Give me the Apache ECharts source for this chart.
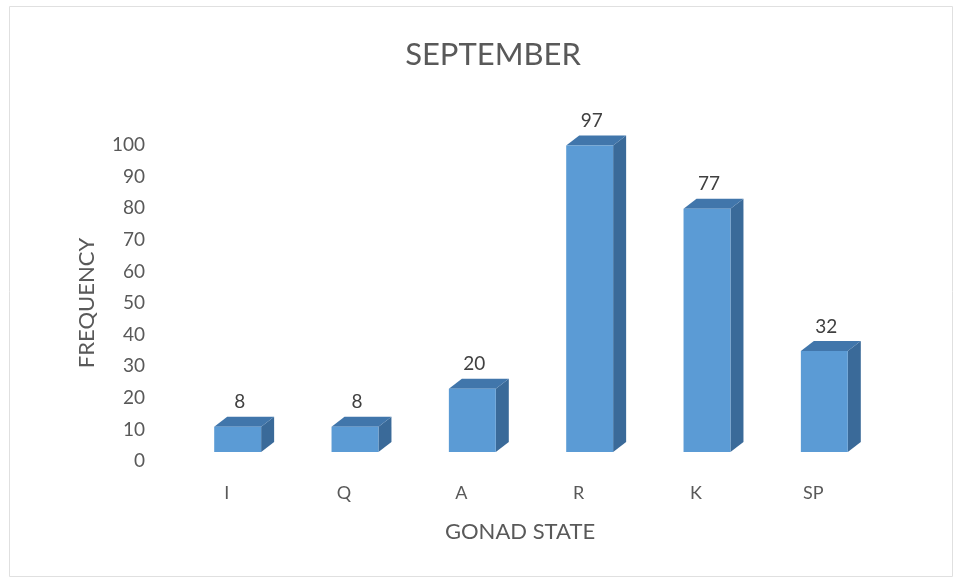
<!DOCTYPE html>
<html>
<head>
<meta charset="utf-8">
<script src="https://cdn.jsdelivr.net/npm/echarts@6/dist/echarts.min.js"></script>
<style>html,body{margin:0;padding:0;background:#fff;}#c{width:960px;height:582px;}</style>
</head>
<body>
<div id="c"></div>
<script>
const categories = ['I', 'Q', 'A', 'R', 'K', 'SP'];
const frequency = [8, 8, 20, 97, 77, 32];
const yTicks = { min: 0, max: 100, interval: 10 };

const FONT = 'Lato';
const chart = echarts.init(document.getElementById('c'), null, { renderer: 'canvas' });

const DX = 13, DY = 10, OFFX = 11, OFFY = -9;

function renderBar(params, api) {
  const i = api.value(0), v = api.value(1);
  const top = api.coord([i, v]);
  const base = api.coord([i, 0]);
  const w = api.size([1, 0])[0] * 0.4;
  const cx = top[0] + OFFX;
  const x0 = cx - w / 2, x1 = cx + w / 2;
  const yT = top[1] + OFFY, yB = base[1] + OFFY;
  return {
    type: 'group',
    children: [
      { type: 'polygon', shape: { points: [[x1, yT], [x1 + DX, yT - DY], [x1 + DX, yB - DY], [x1, yB]] },
        style: { fill: '#3a6a99' } },
      { type: 'polygon', shape: { points: [[x0, yT], [x1, yT], [x1 + DX, yT - DY], [x0 + DX, yT - DY]] },
        style: { fill: '#4176ab' } },
      { type: 'rect', shape: { x: x0, y: yT, width: w, height: yB - yT },
        style: { fill: '#5b9bd5' } },
      { type: 'text', x: cx + 2, y: yT - DY - 5,
        style: { text: String(v), fill: '#404040', font: '19px ' + FONT, textAlign: 'center', textVerticalAlign: 'bottom' } }
    ]
  };
}

chart.setOption({
  backgroundColor: '#ffffff',
  animation: false,
  title: {
    text: 'SEPTEMBER', left: 488, top: 34, textAlign: 'center',
    textStyle: { fontFamily: FONT, fontSize: 31, fontWeight: 'normal', color: '#595959' }
  },
  graphic: [{
    type: 'rect', shape: { x: 9.5, y: 6.5, width: 943, height: 570 },
    style: { fill: 'none', stroke: '#e0e0e0', lineWidth: 1 }, silent: true
  }],
  grid: { left: 168, right: 88, top: 145, bottom: 121 },
  xAxis: {
    type: 'category', data: categories,
    name: 'GONAD STATE', nameLocation: 'middle', nameGap: 60,
    nameTextStyle: { fontFamily: FONT, fontSize: 22, color: '#595959' },
    axisLine: { show: false }, axisTick: { show: false },
    axisLabel: { margin: 23, fontFamily: FONT, fontSize: 18, color: '#595959' }
  },
  yAxis: {
    type: 'value', min: yTicks.min, max: yTicks.max, interval: yTicks.interval,
    name: 'FREQUENCY', nameLocation: 'middle', nameGap: 70, nameRotate: 90,
    nameTextStyle: { fontFamily: FONT, fontSize: 22, color: '#595959' },
    axisLine: { show: false }, axisTick: { show: false }, splitLine: { show: false },
    axisLabel: { margin: 23, fontFamily: FONT, fontSize: 19, color: '#595959' }
  },
  series: [{
    type: 'custom',
    renderItem: renderBar,
    data: frequency.map((v, i) => [i, v]),
    encode: { x: 0, y: 1 }
  }]
});
</script>
</body>
</html>
